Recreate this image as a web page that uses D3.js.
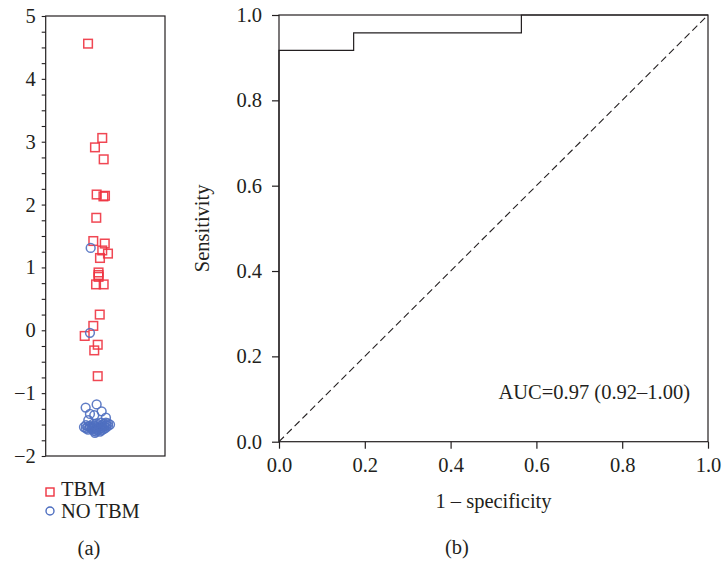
<!DOCTYPE html>
<html>
<head>
<meta charset="utf-8">
<script src="https://cdn.jsdelivr.net/npm/d3@7"></script>
<style>
  html, body { margin: 0; padding: 0; background: #fff; }
  svg { display: block; font-family: "Liberation Serif", "Times New Roman", serif; }
  svg text { font-family: "Liberation Serif", "Times New Roman", serif !important; fill: #231f20; }
</style>
</head>
<body>
<svg id="chart" width="722" height="565"></svg>
<script>
// ---- Data ----
// Panel (a): scatter of values per group, with horizontal jitter
const tbmValues   = [4.56, 3.06, 2.91, 2.72, 2.16, 2.13, 2.14, 1.79, 1.42, 1.38, 1.27, 1.22, 1.15,
                     0.92, 0.88, 0.85, 0.73, 0.73, 0.25, 0.07, -0.09, -0.23, -0.32, -0.73];
const tbmJitter   = [3.55, 4.74, 4.13, 4.86, 4.27, 4.84, 4.97, 4.24, 3.99, 4.95, 4.74, 5.22, 4.55,
                     4.43, 4.43, 4.43, 4.22, 4.86, 4.53, 3.99, 3.27, 4.36, 4.07, 4.36];
const noTbmValues = [1.31, -0.04, -1.23, -1.18, -1.33, -1.35, -1.29, -1.39, -1.43,
  -1.54, -1.56, -1.53, -1.58, -1.55, -1.52, -1.57, -1.54, -1.56, -1.60, -1.52, -1.58, -1.54,
  -1.61, -1.55, -1.59, -1.51, -1.57, -1.53, -1.61, -1.55, -1.59, -1.51, -1.53, -1.57, -1.49,
  -1.55, -1.51, -1.47, -1.52, -1.48, -1.50, -1.51, -1.49, -1.48, -1.47, -1.63];
const noTbmJitter = [3.77, 3.71, 3.35, 4.27, 3.71, 4.07, 4.69, 5.05, 3.57,
  3.21, 3.38, 3.55, 3.55, 3.71, 3.71, 3.88, 3.88, 4.05, 4.05, 4.05, 4.22, 4.22,
  4.22, 4.38, 4.38, 4.38, 4.55, 4.55, 4.55, 4.72, 4.72, 4.72, 4.89, 4.89, 4.89,
  5.05, 5.05, 5.05, 5.22, 5.22, 5.39, 3.38, 3.97, 4.30, 4.63, 4.13];
const legendLabels = ["TBM", "NO TBM"];

// Panel (b): ROC curve
const rocFpr = [0, 0, 0.174, 0.174, 0.565, 0.565, 1];
const rocTpr = [0, 0.917, 0.917, 0.958, 0.958, 1, 1];
const rocTicks = [0, 0.2, 0.4, 0.6, 0.8, 1.0];
const aucLabel = "AUC=0.97 (0.92\u20131.00)";
const xLabel = "1 \u2013 specificity";
const yLabel = "Sensitivity";
const panelLabels = ["(a)", "(b)"];

const red = "#ee3340";
const blue = "#4f6fc0";
const ink = "#231f20";
const FONT = '"Liberation Serif", "Times New Roman", serif';
const FS = 20.5;

const svg = d3.select("#chart");

// ---------- Panel (a) ----------
const A = { left: 45.7, right: 165, top: 16, bottom: 456 };
const ya = d3.scaleLinear().domain([-2, 5]).range([A.bottom, A.top]);
const xa = d3.scaleLinear().domain([0, 10]).range([A.left, A.right]);

const ga = svg.append("g");
ga.append("rect")
  .attr("x", A.left).attr("y", A.top)
  .attr("width", A.right - A.left).attr("height", A.bottom - A.top)
  .attr("fill", "none").attr("stroke", ink).attr("stroke-width", 1.2);

const minorTicks = d3.range(-2, 5.001, 0.25);
const axA = d3.axisLeft(ya)
  .tickValues(minorTicks)
  .tickSize(4)
  .tickPadding(6)
  .tickFormat(d => Number.isInteger(d) ? d3.format("d")(d).replace("-", "\u2212") : "");
const gAxA = ga.append("g").attr("transform", `translate(${A.left},0)`).call(axA);
gAxA.attr("font-family", null).attr("font-size", null);
gAxA.select(".domain").remove();
gAxA.selectAll("line").attr("stroke", ink).attr("stroke-width", 1.1);
gAxA.selectAll("text").style("font-family", FONT).style("font-size", FS + "px").attr("fill", ink);

const sq = 8.6;
ga.selectAll("rect.tbm").data(tbmValues).enter().append("rect")
  .attr("class", "tbm")
  .attr("x", (d, i) => xa(tbmJitter[i]) - sq / 2)
  .attr("y", d => ya(d) - sq / 2)
  .attr("width", sq).attr("height", sq)
  .attr("fill", "none").attr("stroke", red).attr("stroke-width", 1.5).attr("stroke-opacity", 0.9);

ga.selectAll("circle.no").data(noTbmValues).enter().append("circle")
  .attr("class", "no")
  .attr("cx", (d, i) => xa(noTbmJitter[i]))
  .attr("cy", d => ya(d))
  .attr("r", 4.4)
  .attr("fill", "none").attr("stroke", blue).attr("stroke-width", 1.5).attr("stroke-opacity", 0.9);

// Legend
const lg = svg.append("g");
lg.append("rect").attr("x", 46).attr("y", 488).attr("width", 8).attr("height", 8)
  .attr("fill", "none").attr("stroke", red).attr("stroke-width", 1.4);
lg.append("text").attr("x", 61).attr("y", 495.5).style("font-family", FONT).style("font-size", FS + "px").text(legendLabels[0]);
lg.append("circle").attr("cx", 50).attr("cy", 511).attr("r", 4)
  .attr("fill", "none").attr("stroke", blue).attr("stroke-width", 1.4);
lg.append("text").attr("x", 61).attr("y", 517.5).style("font-family", FONT).style("font-size", FS + "px").text(legendLabels[1]);

svg.append("text").attr("x", 89).attr("y", 555).attr("text-anchor", "middle")
  .style("font-family", FONT).style("font-size", FS + "px").text(panelLabels[0]);

// ---------- Panel (b) ----------
const B = { left: 279, right: 708, top: 15, bottom: 441.7 };
const xb = d3.scaleLinear().domain([0, 1]).range([B.left, B.right]);
const yb = d3.scaleLinear().domain([0, 1]).range([B.bottom, B.top]);
const gb = svg.append("g");

// diagonal reference
gb.append("line")
  .attr("x1", xb(0)).attr("y1", yb(0)).attr("x2", xb(1)).attr("y2", yb(1))
  .attr("stroke", ink).attr("stroke-width", 1.1).attr("stroke-dasharray", "7,4");

// ROC step line
const rocPts = rocFpr.map((f, i) => [f, rocTpr[i]]);
gb.append("path")
  .attr("d", d3.line().x(d => xb(d[0])).y(d => yb(d[1]))(rocPts))
  .attr("fill", "none").attr("stroke", ink).attr("stroke-width", 1.2);

// box
gb.append("rect")
  .attr("x", B.left).attr("y", B.top)
  .attr("width", B.right - B.left).attr("height", B.bottom - B.top)
  .attr("fill", "none").attr("stroke", ink).attr("stroke-width", 1.2);

const axBx = d3.axisBottom(xb).tickValues(rocTicks).tickSize(7).tickPadding(9).tickFormat(d3.format(".1f"));
const gbx = gb.append("g").attr("transform", `translate(0,${B.bottom})`).call(axBx);
const axBy = d3.axisLeft(yb).tickValues(rocTicks).tickSize(7).tickPadding(10).tickFormat(d3.format(".1f"));
const gby = gb.append("g").attr("transform", `translate(${B.left},0)`).call(axBy);
[gbx, gby].forEach(g => {
  g.attr("font-family", null).attr("font-size", null);
  g.select(".domain").remove();
  g.selectAll("line").attr("stroke", ink).attr("stroke-width", 1.2);
  g.selectAll("text").style("font-family", FONT).style("font-size", FS + "px").attr("fill", ink);
});

gb.append("text").attr("x", 690).attr("y", 399).attr("text-anchor", "end")
  .style("font-family", FONT).style("font-size", FS + "px").text(aucLabel);

gb.append("text").attr("x", (B.left + B.right) / 2).attr("y", 508).attr("text-anchor", "middle")
  .style("font-family", FONT).style("font-size", FS + "px").text(xLabel);

gb.append("text")
  .attr("transform", `translate(209,${(B.top + B.bottom) / 2}) rotate(-90)`)
  .attr("text-anchor", "middle").style("font-family", FONT).style("font-size", FS + "px").text(yLabel);

svg.append("text").attr("x", 457).attr("y", 554).attr("text-anchor", "middle")
  .style("font-family", FONT).style("font-size", FS + "px").text(panelLabels[1]);
</script>
</body>
</html>
